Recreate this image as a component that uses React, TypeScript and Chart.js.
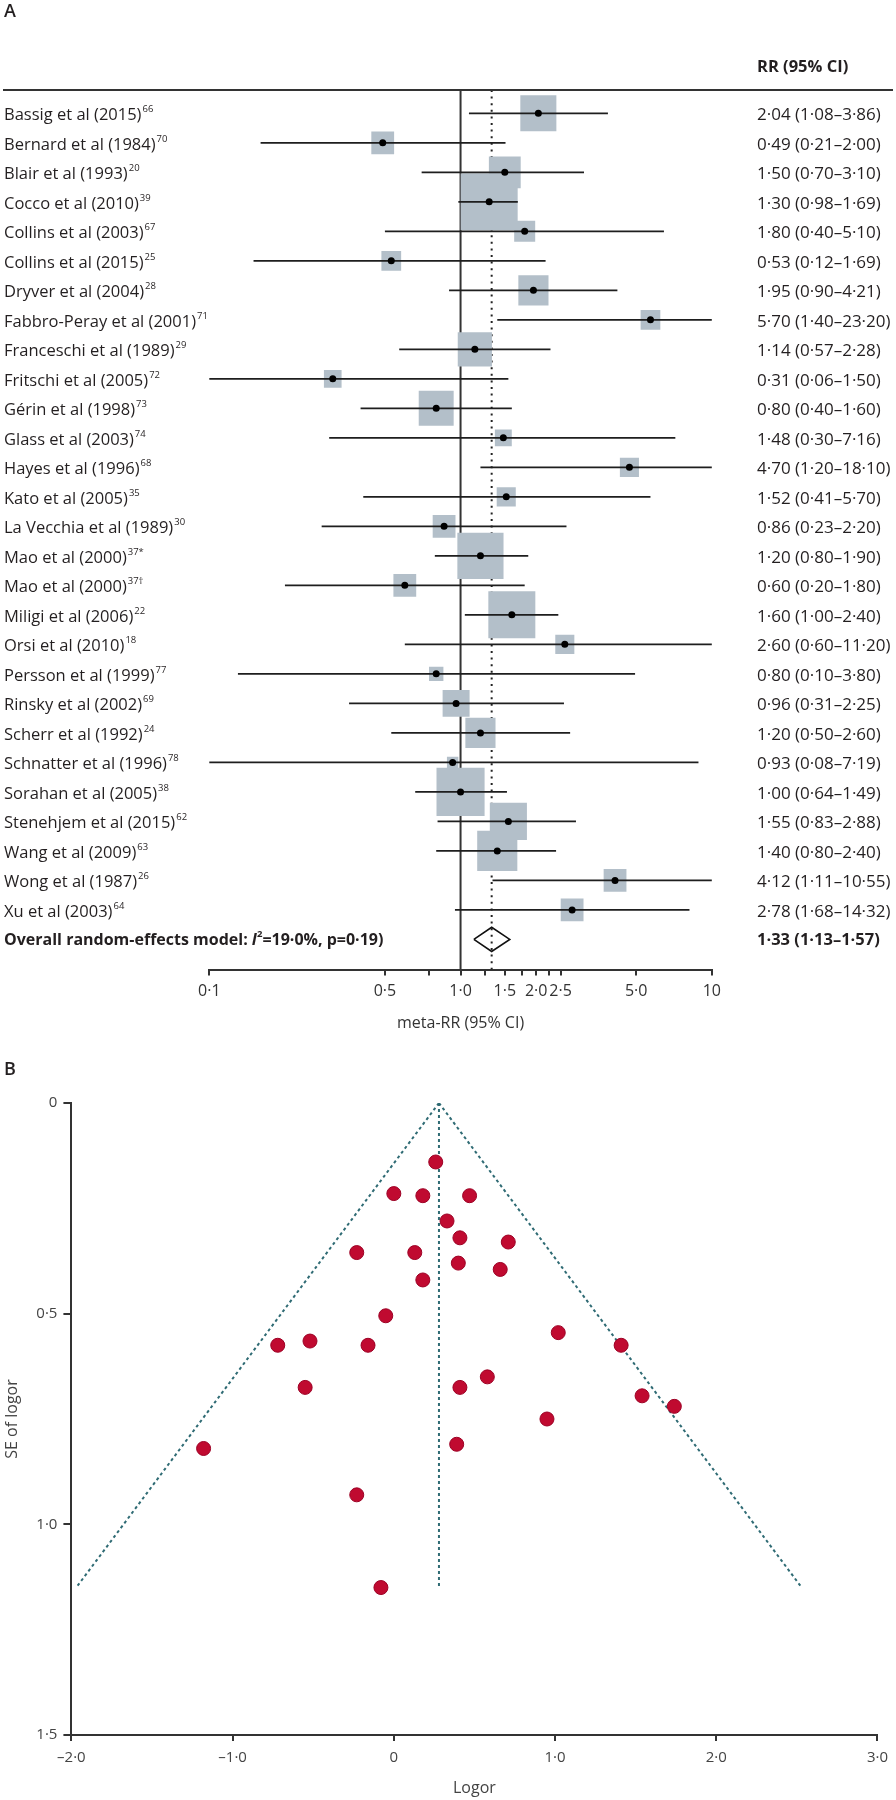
import React, { useEffect, useRef } from "react";
import { Chart, registerables } from "chart.js";

Chart.register(...registerables);

const FONT = "'Open Sans', 'Noto Sans', sans-serif";

// ---------------- Panel A: forest plot data ----------------
const studies = [
  "Bassig et al (2015)",
  "Bernard et al (1984)",
  "Blair et al (1993)",
  "Cocco et al (2010)",
  "Collins et al (2003)",
  "Collins et al (2015)",
  "Dryver et al (2004)",
  "Fabbro-Peray et al (2001)",
  "Franceschi et al (1989)",
  "Fritschi et al (2005)",
  "Gérin et al (1998)",
  "Glass et al (2003)",
  "Hayes et al (1996)",
  "Kato et al (2005)",
  "La Vecchia et al (1989)",
  "Mao et al (2000)",
  "Mao et al (2000)",
  "Miligi et al (2006)",
  "Orsi et al (2010)",
  "Persson et al (1999)",
  "Rinsky et al (2002)",
  "Scherr et al (1992)",
  "Schnatter et al (1996)",
  "Sorahan et al (2005)",
  "Stenehjem et al (2015)",
  "Wang et al (2009)",
  "Wong et al (1987)",
  "Xu et al (2003)",
];
const studyRefs = [
  "66", "70", "20", "39", "67", "25", "28", "71", "29", "72", "73", "74", "68", "35",
  "30", "37*", "37†", "22", "18", "77", "69", "24", "78", "38", "62", "63", "26", "64",
];
const rr = [
  2.04, 0.49, 1.5, 1.3, 1.8, 0.53, 1.95, 5.7, 1.14, 0.31, 0.8, 1.48, 4.7, 1.52,
  0.86, 1.2, 0.6, 1.6, 2.6, 0.8, 0.96, 1.2, 0.93, 1.0, 1.55, 1.4, 4.12, 2.78,
];
// interval ends as drawn in the picture
const ciLow = [
  1.08, 0.16, 0.7, 0.98, 0.5, 0.15, 0.9, 1.4, 0.57, 0.06, 0.4, 0.3, 1.2, 0.41,
  0.28, 0.79, 0.2, 1.04, 0.6, 0.13, 0.36, 0.53, 0.08, 0.66, 0.81, 0.8, 1.34, 0.95,
];
const ciHigh = [
  3.86, 1.51, 3.1, 1.69, 6.45, 2.18, 4.21, 23.2, 2.28, 1.55, 1.6, 7.16, 18.1, 5.7,
  2.64, 1.86, 1.8, 2.45, 11.2, 4.95, 2.58, 2.73, 8.85, 1.53, 2.88, 2.4, 10.55, 8.15,
];
const rrLabels = [
  "2·04 (1·08–3·86)", "0·49 (0·21–2·00)", "1·50 (0·70–3·10)", "1·30 (0·98–1·69)",
  "1·80 (0·40–5·10)", "0·53 (0·12–1·69)", "1·95 (0·90–4·21)", "5·70 (1·40–23·20)",
  "1·14 (0·57–2·28)", "0·31 (0·06–1·50)", "0·80 (0·40–1·60)", "1·48 (0·30–7·16)",
  "4·70 (1·20–18·10)", "1·52 (0·41–5·70)", "0·86 (0·23–2·20)", "1·20 (0·80–1·90)",
  "0·60 (0·20–1·80)", "1·60 (1·00–2·40)", "2·60 (0·60–11·20)", "0·80 (0·10–3·80)",
  "0·96 (0·31–2·25)", "1·20 (0·50–2·60)", "0·93 (0·08–7·19)", "1·00 (0·64–1·49)",
  "1·55 (0·83–2·88)", "1·40 (0·80–2·40)", "4·12 (1·11–10·55)", "2·78 (1·68–14·32)",
];
// study weights (%), shown by box area
const weights = [
  5.0, 2.0, 3.9, 12.5, 1.7, 1.5, 3.5, 1.5, 4.5, 1.2, 4.7, 1.1, 1.4, 1.4,
  2.0, 8.2, 2.0, 8.5, 1.4, 0.8, 2.8, 3.5, 0.5, 8.9, 5.3, 6.2, 2.0, 2.0,
];
const pooledRR = 1.33;
const pooledLow = 1.13;
const pooledHigh = 1.57;
const overallRRLabel = "1·33 (1·13–1·57)";
const forestTicks = [0.1, 0.5, 0.75, 1, 1.25, 1.5, 1.75, 2, 2.25, 2.5, 5, 10];
const forestTickLabels = ["0·1", "0·5", "", "1·0", "", "1·5", "", "2·0", "", "2·5", "5·0", "10"];

// ---------------- Panel B: funnel plot data ----------------
const logor = [
  0.26, 0.0, 0.18, 0.47, 0.33, 0.41, 0.71, -0.23, 0.13, 0.4, 0.66, 0.18, -0.05, -0.72,
  -0.52, -0.16, 1.02, 1.41, 0.58, -0.55, 0.41, 1.54, 1.74, 0.95, 0.39, -1.18, -0.23, -0.08,
];
const seLogor = [
  0.14, 0.215, 0.22, 0.22, 0.28, 0.32, 0.33, 0.355, 0.355, 0.38, 0.395, 0.42, 0.505, 0.575,
  0.565, 0.575, 0.545, 0.575, 0.65, 0.675, 0.675, 0.695, 0.72, 0.75, 0.81, 0.82, 0.93, 1.15,
];
const funnelApex = 0.28;
const funnelMaxSE = 1.15;
const funnelLeftEnd = -1.97;
const funnelRightEnd = 2.53;
const funnelXTicks = [-2, -1, 0, 1, 2, 3];
const funnelXTickLabels = ["–2·0", "–1·0", "0", "1·0", "2·0", "3·0"];
const funnelYTicks = [0, 0.5, 1, 1.5];
const funnelYTickLabels = ["0", "0·5", "1·0", "1·5"];

// ---------------- drawing constants ----------------
const ROW_MIN = -0.79;
const ROW_MAX = 29.02;
const BOX_SCALE = 16.12;
const DIAMOND_HALF = 0.41;
const TEXT = "#231f20";

function labelFor(v: number, ticks: number[], labels: string[]) {
  const i = ticks.findIndex((t) => Math.abs(t - v) < 1e-9);
  return i >= 0 ? labels[i] : "";
}

const forestText = {
  id: "forestText",
  afterDraw(chart: any) {
    const { ctx, chartArea, scales } = chart;
    const y = scales.y;
    ctx.save();
    ctx.fillStyle = TEXT;
    ctx.textAlign = "left";
    ctx.textBaseline = "middle";
    ctx.font = `600 18px ${FONT}`;
    ctx.fillText("A", 4, 12);
    ctx.font = `bold 16.5px ${FONT}`;
    ctx.fillText("RR (95% CI)", 757, 67);
    ctx.strokeStyle = "#333";
    ctx.lineWidth = 2;
    ctx.beginPath();
    ctx.moveTo(3, chartArea.top);
    ctx.lineTo(893, chartArea.top);
    ctx.stroke();
    studies.forEach((s, i) => {
      const py = y.getPixelForValue(i) + 2;
      ctx.font = `16.5px ${FONT}`;
      ctx.fillText(s, 4, py);
      const w = ctx.measureText(s).width;
      ctx.font = `9.5px ${FONT}`;
      ctx.fillText(studyRefs[i], 4 + w + 1, py - 6);
      ctx.font = `17px ${FONT}`;
      ctx.fillText(rrLabels[i], 757, py);
    });
    const oy = y.getPixelForValue(studies.length) + 1;
    let x = 4;
    const seg = (t: string, f: string, dy = 0) => {
      ctx.font = f;
      ctx.fillText(t, x, oy + dy);
      x += ctx.measureText(t).width;
    };
    seg("Overall random-effects model: ", `bold 16px ${FONT}`);
    seg("I", `italic bold 16px ${FONT}`);
    seg("2", `bold 9.5px ${FONT}`, -6);
    seg("=19·0%, p=0·19)", `bold 16px ${FONT}`);
    ctx.font = `bold 16.5px ${FONT}`;
    ctx.fillText(overallRRLabel, 757, oy);
    ctx.restore();
  },
};

const funnelText = {
  id: "funnelText",
  afterDraw(chart: any) {
    const { ctx } = chart;
    ctx.save();
    ctx.fillStyle = TEXT;
    ctx.textAlign = "left";
    ctx.textBaseline = "middle";
    ctx.font = `600 18px ${FONT}`;
    ctx.fillText("B", 4, 20);
    ctx.restore();
  },
};

export default function App() {
  const refA = useRef<HTMLCanvasElement>(null);
  const refB = useRef<HTMLCanvasElement>(null);

  useEffect(() => {
    const ciData: any[] = [];
    rr.forEach((_, i) => {
      ciData.push({ x: ciLow[i], y: i }, { x: ciHigh[i], y: i }, { x: null, y: null });
    });
    const n = studies.length;
    const chartA = new Chart(refA.current as HTMLCanvasElement, {
      type: "scatter",
      data: {
        datasets: [
          {
            data: [{ x: 1, y: ROW_MIN }, { x: 1, y: ROW_MAX }],
            showLine: true,
            borderColor: "#333",
            borderWidth: 2,
            pointRadius: 0,
            order: 6,
          } as any,
          {
            data: [{ x: pooledRR, y: ROW_MIN }, { x: pooledRR, y: ROW_MAX }],
            showLine: true,
            borderColor: "#222",
            borderWidth: 2,
            borderDash: [2, 4.6],
            pointRadius: 0,
            order: 5,
          },
          {
            data: rr.map((v, i) => ({ x: v, y: i })),
            pointStyle: "rect",
            pointRadius: (c: any) => (BOX_SCALE * Math.sqrt(weights[c.dataIndex] || 0)) / Math.SQRT2,
            backgroundColor: "#b3bfc9",
            borderWidth: 0,
            order: 4,
          },
          {
            data: ciData,
            showLine: true,
            spanGaps: false,
            borderColor: "#1e1e1e",
            borderWidth: 1.7,
            pointRadius: 0,
            order: 3,
          },
          {
            data: [
              { x: pooledLow, y: n },
              { x: pooledRR, y: n - DIAMOND_HALF },
              { x: pooledHigh, y: n },
              { x: pooledRR, y: n + DIAMOND_HALF },
              { x: pooledLow, y: n },
            ],
            showLine: true,
            borderColor: "#111",
            borderWidth: 1.6,
            pointRadius: 0,
            order: 2,
          },
          {
            data: rr.map((v, i) => ({ x: v, y: i })),
            pointRadius: 3.5,
            backgroundColor: "#000",
            borderWidth: 0,
            order: 1,
          },
        ],
      },
      options: {
        responsive: false,
        devicePixelRatio: 1,
        animation: false,
        events: [],
        layout: { padding: { left: 209.3, right: 184.2, top: 90, bottom: 0 } },
        plugins: { legend: { display: false }, tooltip: { enabled: false } },
        scales: {
          x: {
            type: "logarithmic",
            min: 0.1,
            max: 10,
            position: "bottom",
            afterBuildTicks: (s: any) => {
              s.ticks = forestTicks.map((v) => ({ value: v }));
            },
            afterFit: (s: any) => {
              s.height = 80.5;
            },
            ticks: {
              autoSkip: false,
              maxRotation: 0,
              minRotation: 0,
              padding: 6,
              color: "#333",
              font: { family: FONT, size: 16 },
              callback: (v: any) => labelFor(Number(v), forestTicks, forestTickLabels),
            },
            grid: { drawOnChartArea: false, drawTicks: true, tickLength: 6, color: "#333", lineWidth: 2 },
            border: { display: true, color: "#333", width: 2 },
            title: {
              display: true,
              text: "meta-RR (95% CI)",
              color: "#333",
              font: { family: FONT, size: 16 },
              padding: { top: 0, bottom: 17 },
            },
          },
          y: {
            type: "linear",
            min: ROW_MIN,
            max: ROW_MAX,
            reverse: true,
            display: false,
          },
        },
      } as any,
      plugins: [forestText],
    });

    const chartB = new Chart(refB.current as HTMLCanvasElement, {
      type: "scatter",
      data: {
        datasets: [
          {
            data: [{ x: funnelApex, y: 0 }, { x: funnelLeftEnd, y: funnelMaxSE }],
            showLine: true,
            borderColor: "#2f6b74",
            borderWidth: 2,
            borderDash: [3, 3],
            pointRadius: 0,
            order: 3,
          },
          {
            data: [{ x: funnelApex, y: 0 }, { x: funnelRightEnd, y: funnelMaxSE }],
            showLine: true,
            borderColor: "#2f6b74",
            borderWidth: 2,
            borderDash: [3, 3],
            pointRadius: 0,
            order: 3,
          },
          {
            data: [{ x: funnelApex, y: 0 }, { x: funnelApex, y: funnelMaxSE }],
            showLine: true,
            borderColor: "#2f6b74",
            borderWidth: 2,
            borderDash: [3, 3],
            pointRadius: 0,
            order: 3,
          },
          {
            data: logor.map((v, i) => ({ x: v, y: seLogor[i] })),
            pointRadius: 7,
            backgroundColor: "#c00a30",
            borderColor: "#9c0024",
            borderWidth: 1,
            order: 1,
          },
        ],
      },
      options: {
        responsive: false,
        devicePixelRatio: 1,
        animation: false,
        events: [],
        layout: { padding: { left: 0, right: 16, top: 53, bottom: 0 } },
        plugins: { legend: { display: false }, tooltip: { enabled: false } },
        scales: {
          x: {
            type: "linear",
            min: -2,
            max: 3,
            afterBuildTicks: (s: any) => {
              s.ticks = funnelXTicks.map((v) => ({ value: v }));
            },
            afterFit: (s: any) => {
              s.height = 65;
            },
            ticks: {
              autoSkip: false,
              maxRotation: 0,
              padding: 8,
              color: "#444",
              font: { family: FONT, size: 15 },
              callback: (v: any) => labelFor(Number(v), funnelXTicks, funnelXTickLabels),
            },
            grid: { drawOnChartArea: false, drawTicks: true, tickLength: 6, color: "#333", lineWidth: 2 },
            border: { display: true, color: "#333", width: 2 },
            title: {
              display: true,
              text: "Logor",
              color: "#444",
              font: { family: FONT, size: 16 },
              padding: { top: 0, bottom: 2 },
            },
          },
          y: {
            type: "linear",
            min: 0,
            max: 1.5,
            reverse: true,
            afterBuildTicks: (s: any) => {
              s.ticks = funnelYTicks.map((v) => ({ value: v }));
            },
            afterFit: (s: any) => {
              s.width = 71.4;
            },
            ticks: {
              autoSkip: false,
              padding: 6,
              color: "#444",
              font: { family: FONT, size: 15 },
              callback: (v: any) => labelFor(Number(v), funnelYTicks, funnelYTickLabels),
            },
            grid: { drawOnChartArea: false, drawTicks: true, tickLength: 8, color: "#333", lineWidth: 2 },
            border: { display: true, color: "#333", width: 2 },
            title: {
              display: true,
              text: "SE of logor",
              color: "#444",
              font: { family: FONT, size: 16 },
              padding: { top: 3, bottom: 0 },
            },
          },
        },
      } as any,
      plugins: [funnelText],
    });

    return () => {
      chartA.destroy();
      chartB.destroy();
    };
  }, []);

  return (
    <div style={{ position: "absolute", left: 0, top: 0, width: 896, height: 1800, background: "#fff" }}>
      <canvas
        ref={refA}
        width={896}
        height={1050}
        style={{ position: "absolute", left: 0, top: 0, width: 896, height: 1050 }}
      />
      <canvas
        ref={refB}
        width={896}
        height={750}
        style={{ position: "absolute", left: 0, top: 1050, width: 896, height: 750 }}
      />
    </div>
  );
}
